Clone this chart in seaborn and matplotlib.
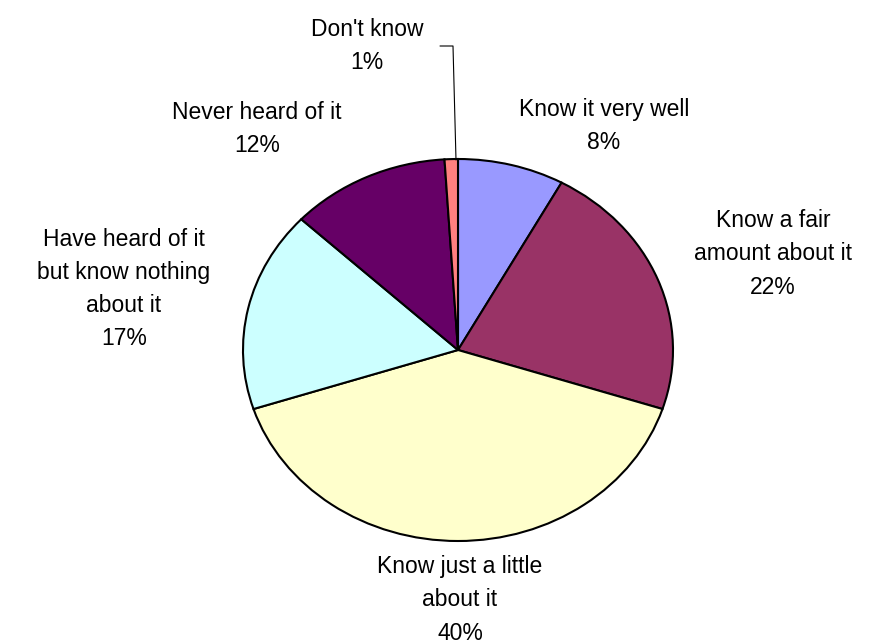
import numpy as np
import seaborn as sns
import matplotlib.pyplot as plt

labels = ['Know it very well', 'Know a fair\namount about it', 'Know just a little\nabout it',
          'Have heard of it\nbut know nothing\nabout it', 'Never heard of it', "Don't know"]
shares = [8, 22, 40, 17, 12, 1]
colors = ['#9999FF', '#993366', '#FFFFCC', '#CCFFFF', '#660066', '#FF8080']

sns.set_style('white')
plt.rcParams['font.family'] = ['Liberation Sans', 'DejaVu Sans']

fig = plt.figure(figsize=(8.74, 6.44), dpi=100)
W, H = 874, 644
cx, cy, rx, ry = 458, 350, 215, 191
ax = fig.add_axes([(cx - rx) / W, (H - cy - ry) / H, 2 * rx / W, 2 * ry / H])

wedges, _ = ax.pie(shares, colors=colors, startangle=90, counterclock=False,
                   wedgeprops=dict(edgecolor='black', linewidth=1.5))
ax.set_aspect('auto')
ax.set_xlim(-1, 1)
ax.set_ylim(-1, 1)

# label centres in pixels (layout)
label_pos = [(604, 126), (773, 254), (460, 600), (124, 289), (257, 129), (367, 46)]
for lab, s, (px, py) in zip(labels, shares, label_pos):
    fig.text(px / W, 1 - py / H, f'{lab}\n{s}%', ha='center', va='center',
             fontsize=16.5, linespacing=1.56, color='black')

# leader line for the small slice
fig.add_artist(plt.Line2D([440 / W, 453 / W, 456 / W],
                          [1 - 46 / H, 1 - 46 / H, 1 - 160 / H],
                          color='black', linewidth=0.8))

fig.savefig('out.png', dpi=100)
